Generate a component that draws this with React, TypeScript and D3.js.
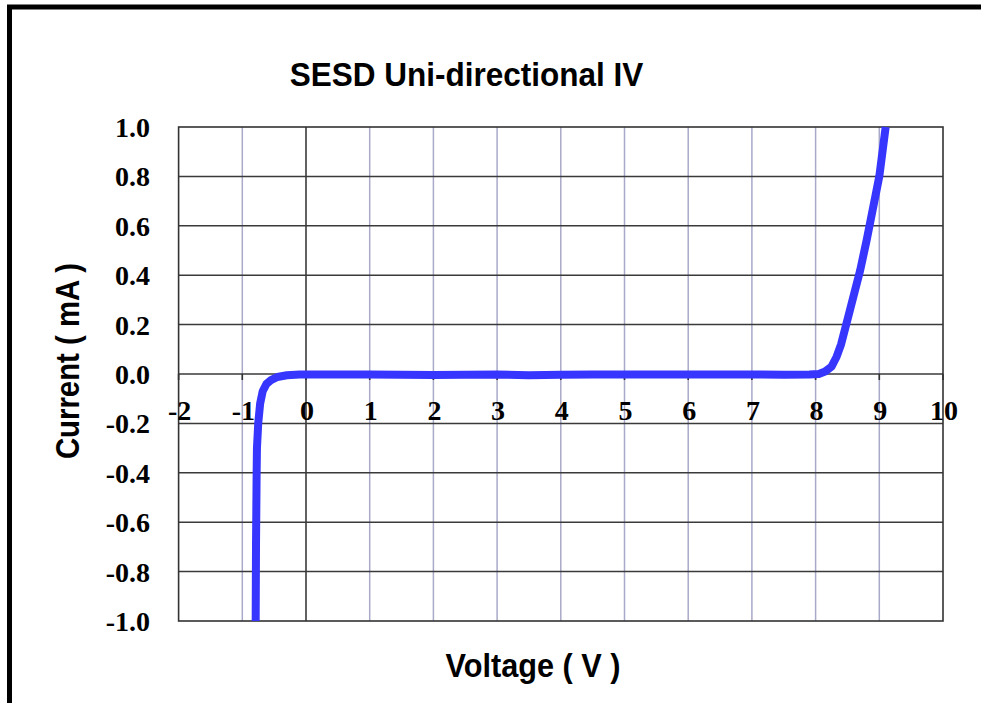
import * as React from 'react';
import * as d3 from 'd3';

const voltage = [-0.79, -0.785, -0.775, -0.77, -0.75, -0.72, -0.68, -0.62, -0.55, -0.45, -0.3, -0.1,
  0.5, 1, 1.5, 2, 2.5, 3, 3.5, 4, 4.5, 5, 5.5, 6, 6.5, 7, 7.5, 7.9, 8.05, 8.15, 8.25, 8.33, 8.4,
  8.5, 8.6, 8.7, 8.8, 8.9, 9.0, 9.1];
const current = [-1.0, -0.7, -0.4, -0.3, -0.2, -0.12, -0.07, -0.04, -0.025, -0.012, -0.005, -0.002,
  -0.002, -0.002, -0.003, -0.004, -0.003, -0.002, -0.005, -0.003, -0.002, -0.002, -0.002, -0.002,
  -0.002, -0.002, -0.003, -0.002, 0.0, 0.01, 0.03, 0.07, 0.12, 0.22, 0.32, 0.42, 0.54, 0.67, 0.8, 1.0];

const xTicks = [-2, -1, 0, 1, 2, 3, 4, 5, 6, 7, 8, 9, 10];
const yTicks = [-1.0, -0.8, -0.6, -0.4, -0.2, 0.0, 0.2, 0.4, 0.6, 0.8, 1.0];

const title = 'SESD Uni-directional IV';
const xTitle = 'Voltage ( V )';
const yTitle = 'Current ( mA )';

const W = 981;
const H = 703;
const plot = {left: 178.6, right: 943, top: 127, bottom: 621};

export default function App() {
  const x = d3.scaleLinear().domain([-2, 10]).range([plot.left, plot.right]);
  const y = d3.scaleLinear().domain([-1, 1]).range([plot.bottom, plot.top]);

  const points: [number, number][] = voltage.map((v, i) => [v, current[i]]);
  const path = d3.line<[number, number]>().x(d => x(d[0])).y(d => y(d[1]))(points);

  const tickFont = {fontFamily: '"Liberation Serif", "Times New Roman", serif', fontWeight: 700, fontSize: 28};
  const labelFont = {fontFamily: '"Liberation Sans", Arial, sans-serif', fontWeight: 700, fontSize: 33};

  return (
    <svg width={W} height={H} style={{position: 'absolute', left: 0, top: 0, background: '#fff'}}>
      <defs>
        <clipPath id="plot-clip">
          <rect x={plot.left} y={plot.top - 1} width={plot.right - plot.left} height={plot.bottom - plot.top + 2}/>
        </clipPath>
      </defs>
      {/* outer frame */}
      <rect x={9.5} y={7} width={W + 20} height={H + 20} fill="none" stroke="#000" strokeWidth={5}/>

      <text transform="translate(466.5,86) scale(0.955,1)" textAnchor="middle" style={labelFont}>{title}</text>

      {/* vertical grid */}
      {xTicks.filter(t => t > -2 && t < 10).map(t => (
        <line key={'vx' + t} x1={x(t)} x2={x(t)} y1={plot.top} y2={plot.bottom}
          stroke={t === 0 ? '#3a3a3a' : '#a9a9c9'} strokeWidth={t === 0 ? 1.6 : 1.5}/>
      ))}
      {/* horizontal grid */}
      {yTicks.filter(t => t > -1 && t < 1).map(t => (
        <line key={'hy' + t} x1={plot.left} x2={plot.right} y1={y(t)} y2={y(t)}
          stroke="#3a3a3a" strokeWidth={1.5}/>
      ))}
      <rect x={plot.left} y={plot.top} width={plot.right - plot.left} height={plot.bottom - plot.top}
        fill="none" stroke="#333" strokeWidth={1.6}/>

      {/* x axis ticks at y = 0 */}
      {xTicks.map(t => (
        <line key={'tx' + t} x1={x(t)} x2={x(t)} y1={y(0)} y2={y(0) + 6} stroke="#333" strokeWidth={1.6}/>
      ))}

      {/* x tick labels */}
      {xTicks.map(t => (
        <text key={'lx' + t} x={x(t) + 1} y={y(0) + 46} textAnchor="middle" style={tickFont}>{t}</text>
      ))}
      {/* y tick labels */}
      {yTicks.map(t => (
        <text key={'ly' + t} x={150} y={y(t) + 10} textAnchor="end" style={tickFont}>{t.toFixed(1)}</text>
      ))}

      <g clipPath="url(#plot-clip)">
        <path d={path || ''} fill="none" stroke="#3636ff" strokeWidth={8}
          strokeLinejoin="round" strokeLinecap="butt"/>
      </g>

      <text transform="translate(533,677) scale(0.93,1)" textAnchor="middle" style={labelFont}>{xTitle}</text>
      <text transform="translate(79,361) rotate(-90) scale(0.89,1)" textAnchor="middle" style={labelFont}>{yTitle}</text>
    </svg>
  );
}
